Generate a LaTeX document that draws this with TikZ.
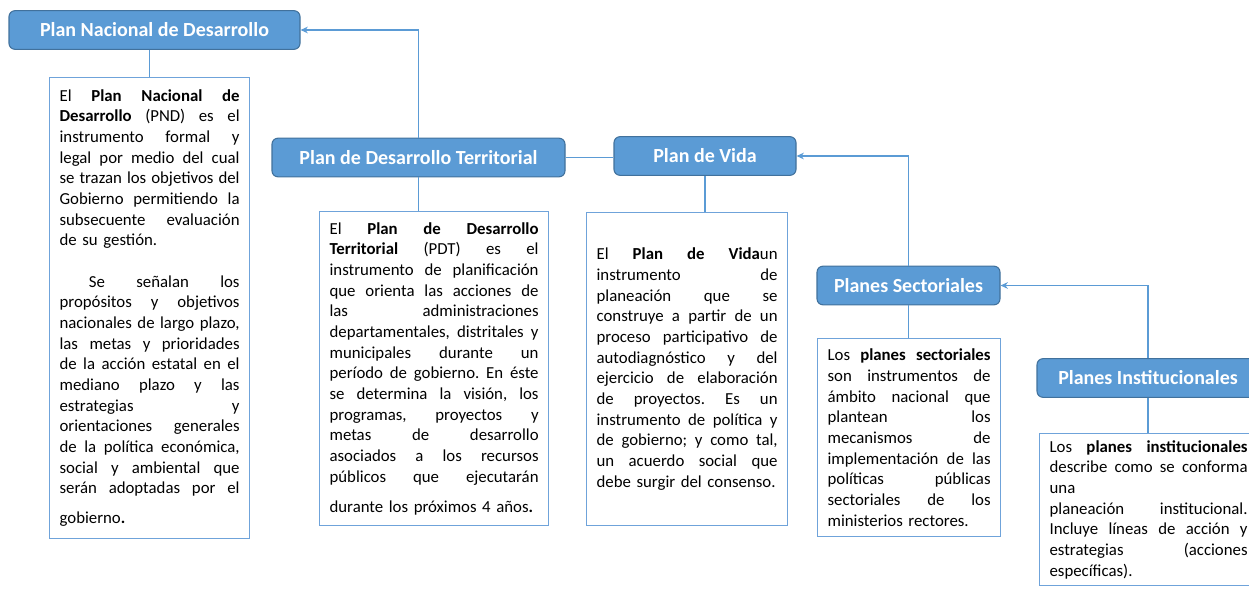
\documentclass[tikz,border=0pt]{standalone}
\usepackage{fontspec}
\setmainfont{Carlito}
\setsansfont{Carlito}
\RequirePackage{xcolor}
\tikzset{every picture/.style={/utils/exec={\sffamily}}}
\usetikzlibrary{calc}
\usetikzlibrary{positioning}
\usetikzlibrary{arrows.meta}

\definecolor{hdrblue}{HTML}{5B9BD5}
\definecolor{hdrline}{HTML}{41719C}
\definecolor{boxblue}{HTML}{6FA3DA}

% one justified line of a text box
\newcommand{\jl}[1]{\leavevmode\hbox to\hsize{\spaceskip=.226em plus 1fil\xspaceskip=\spaceskip #1}}

\tikzset{
  hdr/.style={draw=hdrline, fill=hdrblue, rounded corners=4.5pt, line width=0.8pt,
    text=white, font=\sffamily\bfseries\fontsize{15}{18}\selectfont,
    minimum height=29pt, inner sep=0pt},
  body/.style={draw=boxblue, line width=0.9pt, anchor=north west,
    text width=#1, inner xsep=7.5pt, inner ysep=5pt,
    font=\sffamily\fontsize{12.6}{15.5}\selectfont},
  link/.style={draw=hdrblue, line width=1pt},
  arr/.style={link, -{Stealth[length=5.5pt,width=5pt]}}
}

\begin{document}
\frenchspacing
\begin{tikzpicture}[x=0.75pt, y=-0.75pt]
  \useasboundingbox (0,0) rectangle (1249,590);
  \clip (0,0) rectangle (1249,590);

  % headers
  \node [hdr, minimum width=218.25pt] (pnd) at (154.5,30) {Plan Nacional de Desarrollo};
  \node [hdr, minimum width=219.75pt] (pdt) at (418.5,157.5) {Plan de Desarrollo Territorial};
  \node [hdr, minimum width=136.5pt] (vida) at (705,156) {Plan de Vida};
  \node [hdr, minimum width=137.25pt] (ps) at (908.5,285.5) {Planes Sectoriales};
  \node [hdr, minimum width=166.5pt] (pi) at (1148,378) {Planes Institucionales};

  % text boxes
  \node [body=135pt, minimum height=345.75pt] (pndbody) at (49,77) {%
    \jl{El \textbf{Plan Nacional de}}\\
    \jl{\textbf{Desarrollo} (PND) es el}\\
    \jl{instrumento formal y}\\
    \jl{legal por medio del cual}\\
    \jl{se trazan los objetivos del}\\
    \jl{Gobierno permitiendo la}\\
    \jl{subsecuente evaluación}\\
    de su gestión.\\
    \mbox{}\\
    \jl{\hspace*{22pt}Se señalan los}\\
    \jl{propósitos y objetivos}\\
    \jl{nacionales de largo plazo,}\\
    \jl{las metas y prioridades}\\
    \jl{de la acción estatal en el}\\
    \jl{mediano plazo y las}\\
    \jl{estrategias y}\\
    \jl{orientaciones generales}\\
    \jl{de la política económica,}\\
    \jl{social y ambiental que}\\
    \jl{serán adoptadas por el}\\[7pt]
    gobierno\textbf{.}};

  \node [body=156.75pt, minimum height=235.5pt] (pdtbody) at (319,211) {%
    \jl{El \textbf{Plan de Desarrollo}}\\
    \jl{\textbf{Territorial} (PDT) es el}\\
    \jl{instrumento de planificación}\\
    \jl{que orienta las acciones de}\\
    \jl{las administraciones}\\
    \jl{departamentales, distritales y}\\
    \jl{municipales durante un}\\
    \jl{período de gobierno. En éste}\\
    \jl{se determina la visión, los}\\
    \jl{programas, proyectos y}\\
    \jl{metas de desarrollo}\\
    \jl{asociados a los recursos}\\
    \jl{públicos que ejecutarán}\\[7pt]
    durante los próximos 4 años\textbf{.}};

  \node [body=135.75pt, minimum height=234.75pt] (vidabody) at (586,212) {%
    \jl{El \textbf{Plan de Vida}un}\\
    \jl{instrumento de}\\
    \jl{planeación que se}\\
    \jl{construye a partir de un}\\
    \jl{proceso participativo de}\\
    \jl{autodiagnóstico y del}\\
    \jl{ejercicio de elaboración}\\
    \jl{de proyectos. Es un}\\
    \jl{instrumento de política y}\\
    \jl{de gobierno; y como tal,}\\
    \jl{un acuerdo social que}\\
    debe surgir del consenso.};

  \node [body=122.25pt, minimum height=148.5pt] (psbody) at (817,338) {%
    \jl{Los \textbf{planes sectoriales}}\\
    \jl{son instrumentos de}\\
    \jl{ámbito nacional que}\\
    \jl{plantean los}\\
    \jl{mecanismos de}\\
    \jl{implementación de las}\\
    \jl{políticas públicas}\\
    \jl{sectoriales de los}\\
    ministerios rectores.};

  \node [body=148.5pt] (pibody) at (1039,433) {%
    \jl{Los \textbf{planes institucionales}}\\
    \jl{describe como se conforma}\\
    una\\
    \jl{planeación institucional.}\\
    \jl{Incluye líneas de acción y}\\
    \jl{estrategias (acciones}\\
    específicas).\par\vspace*{30pt}};

  % header to text box
  \draw [link] (pndbody.north) -- (pndbody.north |- pnd.south);
  \draw [link] (pdt.south) -- (pdt.south |- pdtbody.north);
  \draw [link] (vida.south) -- (vida.south |- vidabody.north);
  \draw [link] (ps.south) -- (ps.south |- psbody.north);
  \draw [link] (pi.south) -- (pi.south |- pibody.north);

  % between headers
  \draw [link] (pdt.east) -- (pdt.east -| vida.west);
  \draw [arr] (pdt.north) |- (pnd.east);
  \draw [arr] (ps.north) |- (vida.east);
  \draw [arr] (pi.north) |- (ps.east);
\end{tikzpicture}
\end{document}
